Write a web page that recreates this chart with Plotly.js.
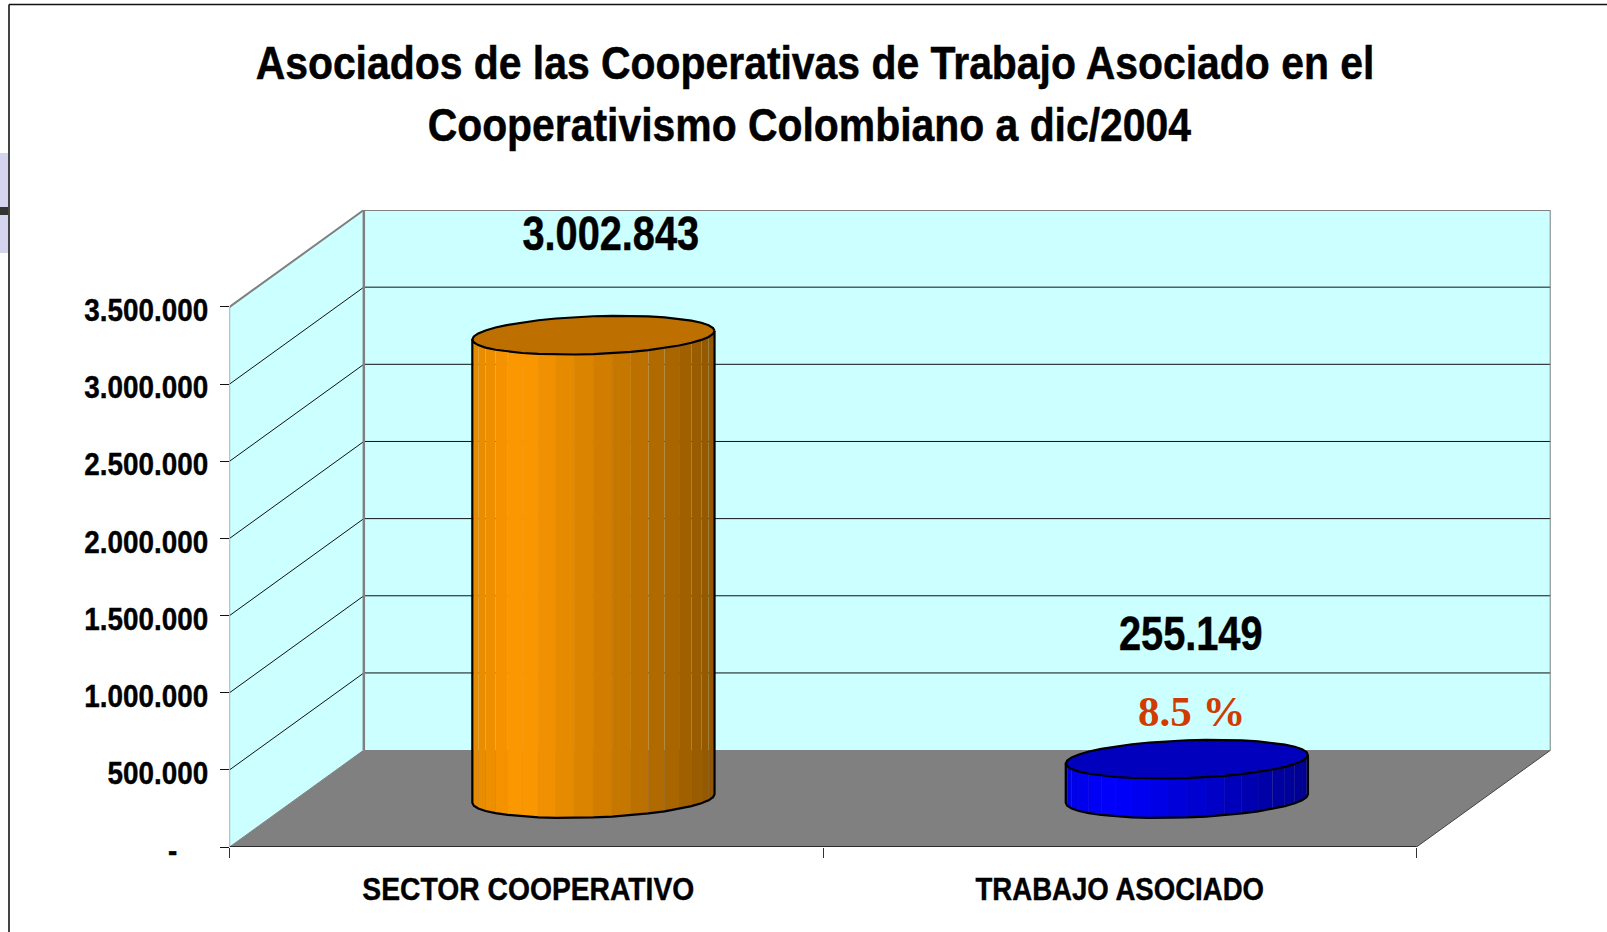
<!DOCTYPE html>
<html><head><meta charset="utf-8">
<script src="https://cdn.plot.ly/plotly-3.0.1.min.js"></script>
<style>html,body{margin:0;padding:0;background:#fff;overflow:hidden}</style>
</head><body><div id="chart" style="width:1607px;height:932px"></div>
<script>
const categories = ['SECTOR COOPERATIVO', 'TRABAJO ASOCIADO'];
const associates = [3002843, 255149];
const associateLabels = ['3.002.843', '255.149'];
const shareLabel = '8.5 %';
const yTicks = [0, 500000, 1000000, 1500000, 2000000, 2500000, 3000000, 3500000];
const yTickLabels = ['-\u00a0\u00a0\u00a0\u00a0', '500.000', '1.000.000', '1.500.000', '2.000.000', '2.500.000', '3.000.000', '3.500.000'];
const titleText = 'Asociados de las Cooperativas de Trabajo Asociado en el<br>Cooperativismo Colombiano a dic/2004';

// Oblique projection of the 3-D box, in axis units
const W = 1607, H = 932;
const yMax = 3500000, depthX = 0.2262, depthY = 628000;
const halfBar = 0.199, depthFrac = 0.4, facets = 40;
const FONT = '"Liberation Sans",Arial,sans-serif';

const traces = [];
const poly = (x, y, fill, line, width) => traces.push({
  x, y, type: 'scatter', mode: width ? 'lines' : 'none', fill: 'toself', fillcolor: fill,
  line: {color: line || fill, width: width || 0}, hoverinfo: 'skip', showlegend: false, cliponaxis: false
});
const path = (x, y, color, width) => traces.push({
  x, y, type: 'scatter', mode: 'lines', line: {color, width}, hoverinfo: 'skip', showlegend: false, cliponaxis: false
});

// walls and floor
const right = categories.length;
poly([0, depthX, depthX, 0, 0], [0, depthY, yMax + depthY, yMax, 0], '#CCFFFF');
poly([depthX, right + depthX, right + depthX, depthX, depthX], [depthY, depthY, yMax + depthY, yMax + depthY, depthY], '#CCFFFF');
poly([0, right, right + depthX, depthX, 0], [0, 0, depthY, depthY, 0], '#808080');

// gridlines
yTicks.slice(1, -1).forEach(v => {
  path([0, depthX, right + depthX], [v, v + depthY, v + depthY], '#111111', 1);
});
// wall edges
path([0, depthX, right + depthX, right + depthX], [yMax, yMax + depthY, yMax + depthY, depthY], '#808080', 2);
path([depthX, depthX], [depthY, yMax + depthY], '#808080', 2.5);
path([0, 0], [0, yMax], '#555555', 1);
path([0, depthX], [0, depthY], '#808080', 1);
path([right, right + depthX], [0, depthY], '#444444', 1);
path([0, right], [0, 0], '#111111', 1.5);

// cylinders
const palettes = [
  {peak: [255, 153, 0], top: '#BD7000'},
  {peak: [0, 0, 255], top: '#0000BD'}
];
const t0 = Math.atan((depthFrac * depthX / 2) / halfBar);
function pt(cx, base, t) {
  return [cx + halfBar * Math.cos(t) + depthFrac * depthX / 2 * Math.sin(t),
          base + depthFrac * depthY / 2 * Math.sin(t)];
}
function shade(rgb, u) {
  const k = u < 0.2 ? 0.9 + 0.1 * u / 0.2 : 1 - 0.43 * (u - 0.2) / 0.8;
  return 'rgb(' + rgb.map(c => Math.round(c * k)).join(',') + ')';
}
categories.forEach((c, i) => {
  const cx = i + 0.5 + depthX / 2, base = depthY / 2, topY = base + associates[i];
  const step = 2 * Math.PI / facets, n = facets / 2;
  const arc = [];
  for (let k = 0; k <= n; k++) arc.push(t0 + Math.PI + k * step);
  for (let k = 0; k < n; k++) {
    const a = pt(cx, 0, arc[k]), b = pt(cx, 0, arc[k + 1]);
    const u = ((a[0] + b[0]) / 2 - (cx - halfBar)) / (2 * halfBar);
    const col = shade(palettes[i].peak, u);
    // seams stay visible only toward the two edges of the body
    const sealed = u >= 0.15 && u <= 0.65;
    poly([a[0], b[0], b[0], a[0], a[0]],
         [base + a[1], base + b[1], topY + b[1], topY + a[1], base + a[1]], col, col, sealed ? 0.6 : 0);
  }
  const ox = [], oy = [];
  ox.push(pt(cx, topY, arc[0])[0]); oy.push(pt(cx, topY, arc[0])[1]);
  arc.forEach(t => { const p = pt(cx, base, t); ox.push(p[0]); oy.push(p[1]); });
  ox.push(pt(cx, topY, arc[n])[0]); oy.push(pt(cx, topY, arc[n])[1]);
  path(ox, oy, '#000000', 2.2);
  const tx = [], ty = [];
  for (let k = 0; k <= facets; k++) { const p = pt(cx, topY, t0 + k * step); tx.push(p[0]); ty.push(p[1]); }
  poly(tx, ty, palettes[i].top, '#000000', 2.2);
});

const layout = {
  width: W, height: H, autosize: false,
  margin: {l: 0, r: 0, t: 0, b: 0, pad: 0},
  paper_bgcolor: '#FFFFFF', plot_bgcolor: 'rgba(0,0,0,0)',
  showlegend: false,
  title: {text: titleText, x: 815 / W, xref: 'paper', xanchor: 'center',
          y: 1 - 79.5 / H, yref: 'paper', yanchor: 'middle',
          font: {family: FONT, size: 47, color: '#000', weight: 700}},
  xaxis: {domain: [229.6 / W, 1550.7 / W], range: [0, right + depthX], fixedrange: true,
          showgrid: false, zeroline: false, showline: false,
          tickmode: 'array', tickvals: categories.map((c, i) => i + 0.5), ticktext: categories,
          ticks: '', ticklabelstandoff: 20,
          tickfont: {family: FONT, size: 32, color: '#000', weight: 700},
          minor: {tickmode: 'array', tickvals: categories.map((c, i) => i).concat([right]),
                  ticks: 'outside', ticklen: 10, tickcolor: '#333333', tickwidth: 1, showgrid: false}},
  yaxis: {domain: [1 - 847 / H, 1 - 210 / H], range: [0, yMax + depthY], fixedrange: true,
          showgrid: false, zeroline: false, showline: false,
          tickmode: 'array', tickvals: yTicks, ticktext: yTickLabels,
          ticks: 'outside', ticklen: 9, tickcolor: '#111111', tickwidth: 1,
          ticklabelstandoff: 5, ticklabelshift: 3,
          tickfont: {family: FONT, size: 32, color: '#000', weight: 700}},
  annotations: [
    {x: 0.5 + depthX / 2, y: depthY / 2 + associates[0], yshift: 102, xshift: 18, text: associateLabels[0]},
    {x: 1.5 + depthX / 2, y: depthY / 2 + associates[1], yshift: 126, xshift: 4, text: associateLabels[1]}
  ].map(a => Object.assign(a, {xref: 'x', yref: 'y', showarrow: false, xanchor: 'center', yanchor: 'middle',
      font: {family: FONT, size: 48, color: '#000', weight: 700}})).concat([
    {x: 1.5 + depthX / 2, y: depthY / 2 + associates[1], yshift: 48, xshift: 5, text: shareLabel,
     xref: 'x', yref: 'y', showarrow: false, xanchor: 'center', yanchor: 'middle',
     font: {family: '"Liberation Serif","Times New Roman",serif', size: 43, color: '#D03C00', weight: 700}}
  ]),
  shapes: [
    {type: 'rect', xref: 'paper', yref: 'paper', x0: 0, x1: 8 / W, y0: 1 - 253 / H, y1: 1 - 153 / H, fillcolor: '#D4D4EE', line: {width: 0}},
    {type: 'rect', xref: 'paper', yref: 'paper', x0: 0, x1: 8 / W, y0: 1 - 215 / H, y1: 1 - 207 / H, fillcolor: '#333333', line: {width: 0}},
    {type: 'line', xref: 'paper', yref: 'paper', x0: 9 / W, x1: 9 / W, y0: 0, y1: 1 - 4.5 / H, line: {color: '#444444', width: 2}},
    {type: 'line', xref: 'paper', yref: 'paper', x0: 9 / W, x1: 1, y0: 1 - 4.5 / H, y1: 1 - 4.5 / H, line: {color: '#111111', width: 1.5}}
  ]
};

// The reference's bold sans is horizontally condensed and heavy: narrow the real text around its anchor.
function squeeze(nodes, k, anchorRight, heavy, shifts) {
  nodes.forEach((el, i) => {
    const b = el.getBBox();
    const ax = anchorRight ? b.x + b.width : b.x + b.width / 2;
    const f = Array.isArray(k) ? k[i] : k;
    const dx = shifts ? shifts[i] : 0;
    const prev = el.getAttribute('transform') || '';
    el.setAttribute('transform', prev + ' translate(' + (ax + dx) + ',0) scale(' + f + ',1) translate(' + (-ax) + ',0)');
    el.style.stroke = '#000';
    el.style.strokeWidth = heavy + 'px';
  });
}
Plotly.newPlot('chart', traces, layout, {staticPlot: true, displayModeBar: false}).then(gd => {
  const titleEl = gd.querySelector('.gtitle');
  squeeze([titleEl], 0.87, false, 0.5);
  // second title line sits slightly left of the first in the reference
  const lines = titleEl.querySelectorAll('tspan.line');
  if (lines[1]) lines[1].setAttribute('x', parseFloat(lines[1].getAttribute('x')) - 6.5);
  squeeze(gd.querySelectorAll('.ytick text'), 0.87, true, 0.4);
  squeeze(gd.querySelectorAll('.xtick text'), [0.884, 0.862], false, 0.4, [2, 0]);
  const notes = gd.querySelectorAll('.annotation-text');
  squeeze([notes[0], notes[1]], 0.828, false, 0.5);
});
</script></body></html>
